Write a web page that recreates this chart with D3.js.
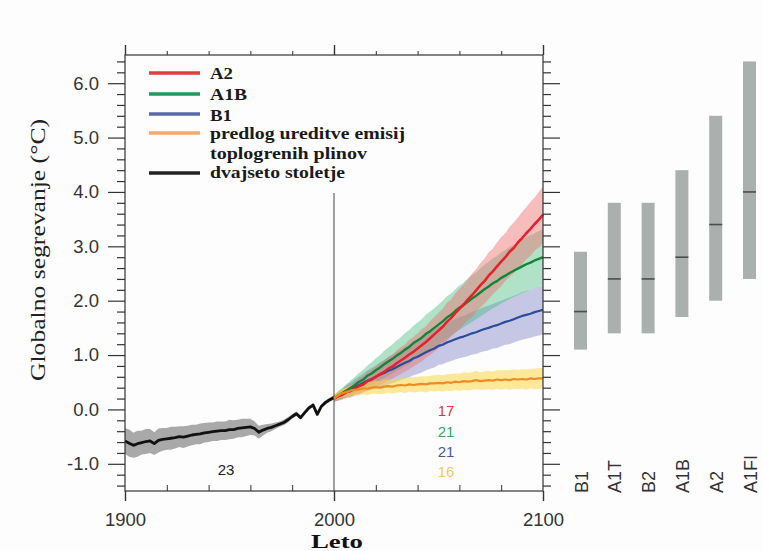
<!DOCTYPE html>
<html><head><meta charset="utf-8">
<script src="https://cdn.jsdelivr.net/npm/d3@7"></script>
<style>body{margin:0;background:#fff}</style></head>
<body><svg id="c" width="763" height="551"></svg>
<script>
// ---------- DATA ----------
const histYears = d3.range(1900, 2001, 2);
const histMean = [-0.58,-0.62,-0.66,-0.63,-0.61,-0.59,-0.58,-0.63,-0.57,-0.55,-0.54,-0.53,-0.52,-0.50,-0.51,-0.49,-0.47,-0.46,-0.45,-0.43,-0.42,-0.41,-0.40,-0.39,-0.39,-0.37,-0.37,-0.35,-0.34,-0.33,-0.32,-0.35,-0.42,-0.38,-0.35,-0.33,-0.30,-0.27,-0.24,-0.19,-0.13,-0.08,-0.15,-0.06,0.03,0.08,-0.09,0.06,0.13,0.18,0.22];
const histSpread = [0.24,0.25,0.23,0.24,0.22,0.23,0.22,0.21,0.22,0.21,0.20,0.21,0.20,0.19,0.20,0.19,0.19,0.18,0.19,0.18,0.18,0.17,0.18,0.17,0.17,0.18,0.17,0.16,0.17,0.16,0.15,0.13,0.12,0.10,0.08,0.07,0.06,0.05,0.05,0.05,0.04,0.04,0.04,0.04,0.04,0.04,0.04,0.04,0.04,0.04,0.04];

const scenYears = d3.range(2000, 2101, 2);
const a2Mean = [0.20,0.24,0.27,0.32,0.34,0.38,0.43,0.46,0.52,0.55,0.60,0.65,0.69,0.75,0.79,0.85,0.90,0.95,1.01,1.06,1.12,1.18,1.24,1.31,1.38,1.45,1.52,1.61,1.68,1.77,1.85,1.93,2.02,2.10,2.19,2.28,2.36,2.46,2.54,2.63,2.72,2.80,2.90,2.97,3.07,3.15,3.24,3.32,3.41,3.49,3.58];
const a2Spread = [0.06,0.08,0.09,0.11,0.12,0.13,0.15,0.15,0.17,0.18,0.19,0.20,0.21,0.22,0.22,0.24,0.25,0.25,0.27,0.27,0.28,0.30,0.29,0.31,0.32,0.33,0.33,0.35,0.34,0.36,0.37,0.37,0.38,0.40,0.39,0.41,0.41,0.43,0.42,0.44,0.45,0.44,0.46,0.47,0.46,0.48,0.48,0.50,0.49,0.51,0.52];
const a1bMean = [0.20,0.25,0.30,0.35,0.40,0.45,0.51,0.55,0.62,0.66,0.72,0.77,0.83,0.88,0.93,0.99,1.04,1.10,1.15,1.22,1.27,1.32,1.39,1.44,1.50,1.56,1.62,1.69,1.74,1.81,1.87,1.92,1.98,2.04,2.09,2.15,2.21,2.26,2.32,2.36,2.42,2.46,2.51,2.55,2.59,2.63,2.67,2.70,2.74,2.77,2.80];
const a1bSpread = [0.06,0.08,0.10,0.12,0.13,0.15,0.16,0.18,0.19,0.21,0.22,0.23,0.25,0.26,0.27,0.28,0.29,0.30,0.31,0.32,0.33,0.34,0.35,0.36,0.36,0.37,0.38,0.39,0.39,0.40,0.41,0.41,0.42,0.43,0.43,0.44,0.45,0.45,0.46,0.46,0.47,0.47,0.48,0.48,0.49,0.49,0.50,0.50,0.50,0.51,0.51];
const b1Mean = [0.20,0.25,0.29,0.34,0.37,0.42,0.45,0.49,0.53,0.56,0.60,0.64,0.67,0.71,0.74,0.78,0.82,0.86,0.89,0.94,0.97,1.01,1.05,1.09,1.12,1.17,1.19,1.23,1.26,1.29,1.32,1.34,1.37,1.40,1.42,1.45,1.48,1.50,1.53,1.55,1.58,1.61,1.63,1.66,1.69,1.72,1.74,1.76,1.79,1.81,1.83];
const b1Spread = [0.06,0.08,0.09,0.11,0.13,0.14,0.16,0.17,0.19,0.20,0.21,0.23,0.24,0.25,0.26,0.27,0.28,0.29,0.30,0.31,0.32,0.33,0.33,0.34,0.35,0.35,0.36,0.36,0.37,0.37,0.38,0.38,0.39,0.39,0.40,0.40,0.41,0.41,0.41,0.42,0.42,0.42,0.43,0.43,0.43,0.44,0.44,0.44,0.45,0.45,0.45];
const constMean = [0.20,0.26,0.30,0.32,0.35,0.36,0.37,0.39,0.38,0.40,0.41,0.40,0.42,0.43,0.42,0.44,0.45,0.44,0.46,0.45,0.46,0.47,0.46,0.48,0.48,0.49,0.48,0.50,0.49,0.51,0.50,0.52,0.51,0.52,0.54,0.52,0.53,0.54,0.53,0.55,0.54,0.55,0.54,0.56,0.55,0.56,0.55,0.57,0.56,0.57,0.57];
const constSpread = [0.05,0.07,0.08,0.09,0.10,0.10,0.11,0.11,0.12,0.11,0.12,0.12,0.13,0.12,0.13,0.13,0.13,0.14,0.13,0.14,0.14,0.14,0.15,0.14,0.15,0.15,0.15,0.15,0.16,0.15,0.16,0.16,0.16,0.16,0.17,0.16,0.17,0.17,0.17,0.17,0.18,0.17,0.18,0.18,0.18,0.18,0.19,0.18,0.19,0.19,0.19];

const barCats = ["B1","A1T","B2","A1B","A2","A1FI"];
const barLow  = [1.1,1.4,1.4,1.7,2.0,2.4];
const barBest = [1.8,2.4,2.4,2.8,3.4,4.0];
const barHigh = [2.9,3.8,3.8,4.4,5.4,6.4];

const yMajorTicks = [-1,0,1,2,3,4,5,6];
const xMajorTicks = [1900,2000,2100];
const xMinorTicks = [1920,1940,1960,1980,2020,2040,2060,2080];
const legendLabels = ["A2","A1B","B1","predlog ureditve emisij","toplogrenih plinov","dvajseto stoletje"];
const modelCounts = ["17","21","21","16"];
const histCount = "23";

// ---------- LAYOUT ----------
const svg = d3.select("#c");
const L=125, R=543, T=56, B=491;
const x = d3.scaleLinear().domain([1900,2100]).range([L,R]);
const y = d3.scaleLinear().domain([-1.5,6.5]).range([B,T]);
const sans = "Liberation Sans, Arial, sans-serif";
const serif = "Liberation Serif, Times New Roman, serif";

svg.append("rect").attr("width",763).attr("height",551).attr("fill","#fdfdfe");

function band(years, mean, spread, fill){
  const data = years.map((yr,i)=>({yr, m:mean[i], s:spread[i]}));
  svg.append("path").datum(data)
    .attr("fill", fill).attr("stroke","none")
    .attr("d", d3.area().x(d=>x(d.yr)).y0(d=>y(d.m-d.s)).y1(d=>y(d.m+d.s)));
}
function line(years, mean, color, w){
  svg.append("path").datum(years.map((yr,i)=>({yr, m:mean[i]})))
    .attr("fill","none").attr("stroke",color).attr("stroke-width",w).attr("stroke-linejoin","round")
    .attr("d", d3.line().x(d=>x(d.yr)).y(d=>y(d.m)));
}
band(histYears, histMean, histSpread, "#a9a9a9");
band(scenYears, b1Mean, b1Spread, "rgba(120,125,195,0.42)");
band(scenYears, a1bMean, a1bSpread, "rgba(60,185,120,0.40)");
band(scenYears, a2Mean, a2Spread, "rgba(240,110,110,0.45)");
band(scenYears, constMean, constSpread, "rgba(250,215,70,0.55)");

svg.append("line").attr("x1",x(2000)).attr("x2",x(2000)).attr("y1",193).attr("y2",B)
  .attr("stroke","#444").attr("stroke-width",1);

line(histYears, histMean, "#111", 2.8);
line(scenYears, b1Mean, "#2d4b9c", 2.2);
line(scenYears, a1bMean, "#10863a", 2.4);
line(scenYears, a2Mean, "#e4222c", 2.6);
line(scenYears, constMean, "#f08a22", 2.2);

svg.append("rect").attr("x",L).attr("y",T-1).attr("width",R-L).attr("height",B-T+1)
  .attr("fill","none").attr("stroke","#333").attr("stroke-width",1.2);

const yMinor = d3.range(-14, 65, 2).map(v=>v/10).filter(v=>!yMajorTicks.includes(v));
function yAxis(gen, xpos, majorLen, minorLen, labels){
  const g1 = svg.append("g").attr("transform",`translate(${xpos},0)`)
    .call(gen(y).tickValues(yMajorTicks).tickSize(majorLen).tickFormat(labels ? (d=>d.toFixed(1)) : ""));
  const g2 = svg.append("g").attr("transform",`translate(${xpos},0)`)
    .call(gen(y).tickValues(yMinor).tickSize(minorLen).tickFormat(""));
  [g1,g2].forEach(g=>{g.select(".domain").remove(); g.selectAll("line").attr("stroke","#333").attr("stroke-width",1.2);});
  g1.selectAll("text").attr("font-family",sans).attr("font-size",18.5).attr("fill","#333");
  return g1;
}
const gl = yAxis(d3.axisLeft, L, 17, 8, true);
gl.selectAll("text").attr("x",-26);
yAxis(d3.axisRight, R, 17, 8, false);

const gb = svg.append("g").attr("transform",`translate(0,${B})`)
  .call(d3.axisBottom(x).tickValues(xMajorTicks).tickSize(10).tickFormat(d=>String(d)));
gb.select(".domain").remove();
gb.selectAll("line").attr("stroke","#333").attr("stroke-width",1.4);
gb.selectAll("text").attr("font-family",sans).attr("font-size",18.5).attr("fill","#333").attr("y",21.5);
const gbm = svg.append("g").attr("transform",`translate(0,${B})`)
  .call(d3.axisTop(x).tickValues(xMinorTicks).tickSize(6).tickFormat(""));
gbm.select(".domain").remove(); gbm.selectAll("line").attr("stroke","#333");
const gt = svg.append("g").attr("transform",`translate(0,${T-1})`)
  .call(d3.axisTop(x).tickValues(xMajorTicks).tickSize(10).tickFormat(""));
gt.select(".domain").remove(); gt.selectAll("line").attr("stroke","#333").attr("stroke-width",1.4);
const gtm = svg.append("g").attr("transform",`translate(0,${T-1})`)
  .call(d3.axisTop(x).tickValues(xMinorTicks).tickSize(4).tickFormat(""));
gtm.select(".domain").remove(); gtm.selectAll("line").attr("stroke","#333");

svg.append("text").attr("x",337).attr("y",547.5).attr("text-anchor","middle")
  .attr("font-family",serif).attr("font-weight","bold").attr("font-size",19)
  .attr("textLength",52).attr("lengthAdjust","spacingAndGlyphs").attr("fill","#111").text("Leto");
svg.append("text").attr("transform","translate(45,250) rotate(-90)").attr("text-anchor","middle")
  .attr("font-family",serif).attr("font-size",20).attr("textLength",262).attr("lengthAdjust","spacingAndGlyphs")
  .attr("fill","#222").text("Globalno segrevanje (°C)");

const legColors = ["#e23a3e","#1f9a5c","#5a68a8","#f6a866",null,"#222"];
const legLineY = [73,94,114,133,null,173];
const legTextY = [79,100,121,139,159,178];
const legWidths = [23,37,22,195,157,135];
legendLabels.forEach((lab,i)=>{
  if(legColors[i]) svg.append("line").attr("x1",149).attr("x2",200).attr("y1",legLineY[i]).attr("y2",legLineY[i])
      .attr("stroke",legColors[i]).attr("stroke-width",3.5);
  svg.append("text").attr("x",210).attr("y",legTextY[i]).attr("font-family",serif).attr("font-weight","bold")
    .attr("font-size",16).attr("textLength",legWidths[i]).attr("lengthAdjust","spacingAndGlyphs")
    .attr("fill","#1a1a1a").text(lab);
});

const countColors = ["#d83a3a","#3aa55c","#4a5a90","#f0c868"];
const countY = [416,437,457,477];
modelCounts.forEach((c,i)=>{
  svg.append("text").attr("x",446).attr("y",countY[i]).attr("text-anchor","middle")
    .attr("font-family",sans).attr("font-size",15).attr("fill",countColors[i]).text(c);
});
svg.append("text").attr("x",226).attr("y",475).attr("text-anchor","middle")
  .attr("font-family",sans).attr("font-size",15).attr("fill","#222").text(histCount);

const xb = d3.scalePoint().domain(barCats).range([580.5,749.5]);
const bw = 13;
barCats.forEach((c,i)=>{
  svg.append("rect").attr("x",xb(c)-bw/2).attr("width",bw)
    .attr("y",y(barHigh[i])).attr("height",y(barLow[i])-y(barHigh[i])).attr("fill","#aab0ad");
  svg.append("line").attr("x1",xb(c)-bw/2).attr("x2",xb(c)+bw/2).attr("y1",y(barBest[i])).attr("y2",y(barBest[i]))
    .attr("stroke","#4a4f4c").attr("stroke-width",1.6);
  svg.append("text").attr("transform",`translate(${xb(c)+1},493) rotate(-90)`)
    .attr("dominant-baseline","central").attr("font-family",sans).attr("font-size",18).attr("fill","#333").text(c);
});
</script></body></html>
